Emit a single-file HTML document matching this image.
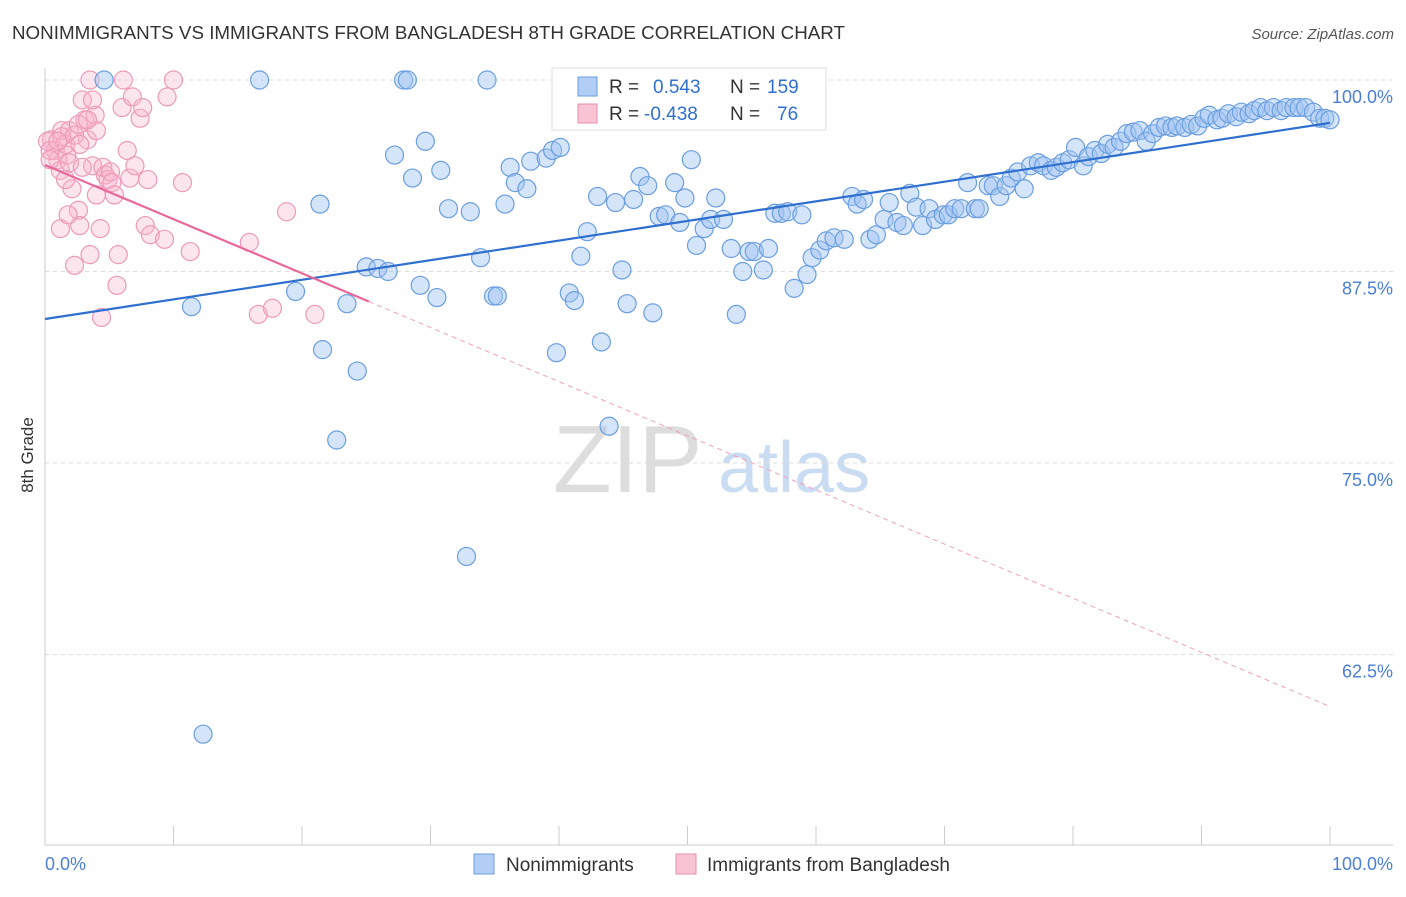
<!DOCTYPE html>
<html><head><meta charset="utf-8"><style>
body{margin:0;background:#fff;font-family:"Liberation Sans",sans-serif;}
svg text{font-family:"Liberation Sans",sans-serif;}
</style></head><body>
<svg id="chart" width="1406" height="892" viewBox="0 0 1406 892" xmlns="http://www.w3.org/2000/svg">
<text x="12" y="39" font-size="18.5" textLength="833" lengthAdjust="spacingAndGlyphs" fill="#333">NONIMMIGRANTS VS IMMIGRANTS FROM BANGLADESH 8TH GRADE CORRELATION CHART</text>
<text x="1394" y="39" font-size="15" fill="#555" text-anchor="end" font-style="italic">Source: ZipAtlas.com</text>
<g>
<text x="553" y="492" font-size="96" fill="#ddd" font-family="Liberation Serif, serif">ZIP</text>
<text x="718" y="492" font-size="72" fill="#c9dcf2">atlas</text>
</g>
<g id="grid"></g>
<g id="axes"></g>
<g id="pts"></g>
<g id="trend"></g>
<text transform="translate(33,455) rotate(-90)" font-size="17" fill="#333" text-anchor="middle">8th Grade</text>
<g>
<rect x="552" y="68" width="274" height="62" fill="#fff" stroke="#ddd"/>
<rect x="578" y="77" width="19" height="19" fill="#b3cef5" stroke="#6b9ee0"/>
<rect x="578" y="104" width="19" height="19" fill="#f8c3d3" stroke="#e88fb0"/>
<text x="609" y="93" font-size="19" fill="#333">R = </text><text x="653" y="93" font-size="19" fill="#2f6fd0">0.543</text>
<text x="730" y="93" font-size="19" fill="#333">N = </text><text x="767" y="93" font-size="19" fill="#2f6fd0">159</text>
<text x="609" y="120" font-size="19" fill="#333">R = </text><text x="644" y="120" font-size="19" fill="#2f6fd0">-0.438</text>
<text x="730" y="120" font-size="19" fill="#333">N = </text><text x="777" y="120" font-size="19" fill="#2f6fd0">76</text>
</g>
<g>
<rect x="474" y="854" width="20" height="20" fill="#b3cef5" stroke="#6b9ee0"/>
<text x="506" y="871" font-size="19" fill="#333">Nonimmigrants</text>
<rect x="676" y="854" width="20" height="20" fill="#f8c3d3" stroke="#e88fb0"/>
<text x="707" y="871" font-size="19" fill="#333">Immigrants from Bangladesh</text>
</g>
</svg>
<script>
const yTicks=[100,87.5,75,62.5];
const yTickLabels=["100.0%","87.5%","75.0%","62.5%"];
const xTickLabels=["0.0%","100.0%"];
const blueX=[4.6,16.7,27.9,28.2,34.4,11.4,21.4,19.5,21.6,24.3,22.7,23.5,25.0,25.9,26.7,27.2,28.6,29.2,29.6,30.5,30.8,31.4,33.1,33.9,34.9,35.2,35.8,36.2,36.6,37.5,37.8,39.0,39.5,40.1,41.7,42.2,40.8,41.2,39.8,43.0,43.9,43.3,44.4,44.9,45.3,45.8,46.3,46.9,47.3,47.8,48.3,49.0,49.4,49.8,50.3,50.7,51.3,51.8,52.2,52.8,53.4,53.8,54.3,54.8,55.2,55.9,56.3,56.8,57.3,57.8,58.3,58.9,59.3,59.7,60.3,60.8,61.4,62.2,62.8,63.2,63.7,64.2,64.7,65.3,65.7,66.3,66.8,67.3,67.8,68.3,68.8,69.3,69.9,70.3,70.8,71.3,71.8,72.4,72.7,73.4,73.8,74.3,74.8,75.2,75.7,76.2,76.7,77.3,77.7,78.3,78.7,79.2,79.7,80.2,80.8,81.2,81.7,82.2,82.7,83.2,83.7,84.2,84.7,85.2,85.7,86.2,86.7,87.2,87.7,88.1,88.7,89.2,89.7,90.2,90.6,91.2,91.6,92.1,92.7,93.1,93.7,94.1,94.6,95.1,95.6,96.2,96.6,97.2,97.6,98.1,98.7,99.2,99.6,100,12.3,32.8];
const blueY=[100,100,100,100,100,85.2,91.9,86.2,82.4,81.0,76.5,85.4,87.8,87.7,87.5,95.1,93.6,86.6,96.0,85.8,94.1,91.6,91.4,88.4,85.9,85.9,91.9,94.3,93.3,92.9,94.7,94.9,95.4,95.6,88.5,90.1,86.1,85.6,82.2,92.4,77.4,82.9,92.0,87.6,85.4,92.2,93.7,93.1,84.8,91.1,91.2,93.3,90.7,92.3,94.8,89.2,90.3,90.9,92.3,90.9,89.0,84.7,87.5,88.8,88.8,87.6,89.0,91.3,91.3,91.4,86.4,91.2,87.3,88.4,88.9,89.5,89.7,89.6,92.4,91.9,92.2,89.6,89.9,90.9,92.0,90.7,90.5,92.6,91.7,90.5,91.6,90.9,91.2,91.2,91.6,91.6,93.3,91.6,91.6,93.1,93.1,92.4,93.1,93.6,94.0,92.9,94.4,94.6,94.4,94.1,94.3,94.6,94.8,95.6,94.4,95.0,95.4,95.2,95.8,95.6,96.0,96.5,96.6,96.7,96.0,96.5,96.9,97.0,96.9,97.0,96.9,97.1,97.0,97.5,97.7,97.4,97.5,97.8,97.6,97.9,97.8,98.0,98.2,98.0,98.2,98.0,98.2,98.2,98.2,98.2,97.9,97.5,97.5,97.4,57.3,68.9];
const pinkX=[0.5,0.8,1.0,1.2,1.3,1.6,1.7,1.9,2.1,2.3,2.6,2.7,2.9,3.1,3.3,3.5,3.7,3.9,4.0,4.3,4.5,4.7,4.9,5.1,5.2,5.4,5.6,5.7,6.0,6.1,6.4,6.6,6.8,7.0,7.4,7.6,7.8,8.0,8.2,9.3,9.5,10.0,10.7,11.3,15.9,16.6,17.7,18.8,21.0,4.4,3.5,1.2,1.6,1.8,0.2,0.4,1.3,2.3,2.6,3.7,4.0,3.3,1.0,0.4,1.9,2.9,2.7];
const pinkY=[96.1,95.4,94.8,94.1,96.7,95.8,95.1,96.7,92.9,87.9,91.5,90.5,98.7,97.4,96.1,100,94.4,97.7,92.5,90.3,94.3,93.8,93.5,94.0,93.3,92.5,86.6,88.6,98.2,100,95.4,93.6,98.9,94.4,97.5,98.2,90.5,93.5,89.9,89.6,98.9,100,93.3,88.8,89.4,84.7,85.1,91.4,84.7,84.5,88.6,90.3,93.5,91.2,96.0,95.4,96.3,96.4,97.1,98.7,96.7,97.4,96.0,94.8,94.6,94.3,95.8];
const blueTrend=[84.4,97.2];
const pinkTrend=[94.45,59.1];
const pinkSolidEnd=25.2;

const NS="http://www.w3.org/2000/svg";
const X0=45,X1=1330,YTOP=80,PX_PER=191.5/12.5;
const sx=v=>X0+(X1-X0)*v/100;
const sy=v=>YTOP+(100-v)*PX_PER;
function mk(tag,attrs,parent){const e=document.createElementNS(NS,tag);for(const k in attrs)e.setAttribute(k,attrs[k]);parent.appendChild(e);return e;}
const grid=document.getElementById('grid'),axes=document.getElementById('axes');
yTicks.forEach((t,i)=>{
  const l=mk('line',{x1:45,x2:1393,y1:sy(t),y2:sy(t),stroke:'#ddd','stroke-dasharray':'4,4'},grid);
  
  
  const tx=mk('text',{x:1393,y:sy(t)+23,'font-size':18,fill:'#4a7fd4','text-anchor':'end'},axes);
  tx.textContent=yTickLabels[i];
  
  
});
const ax=mk('line',{x1:45,x2:45,y1:68,y2:845,stroke:'#ccc'},axes);


const bx=mk('line',{x1:45,x2:1393,y1:845,y2:845,stroke:'#ccc'},axes);


for(let i=0;i<=10;i++){
  const t=mk('line',{x1:sx(i*10),x2:sx(i*10),y1:826,y2:845,stroke:'#ccc'},axes);
  
  
}
[[0,'start',45],[100,'end',1393]].forEach((d,i)=>{
  const tx=mk('text',{x:d[2],y:870,'font-size':18,fill:'#4a7fd4','text-anchor':d[1]},axes);
  tx.textContent=xTickLabels[i];
  
  
});
const pts=document.getElementById('pts');
pinkX.forEach((v,i)=>{
  const c=mk('circle',{cx:sx(v),cy:sy(pinkY[i]),r:9,fill:'rgba(248,180,203,0.35)',stroke:'#ec9ab8','stroke-width':1.2},pts);
  
  
});
blueX.forEach((v,i)=>{
  const c=mk('circle',{cx:sx(v),cy:sy(blueY[i]),r:9,fill:'rgba(160,195,242,0.45)',stroke:'#6b9ee0','stroke-width':1.2},pts);
  
  
});
const tr=document.getElementById('trend');
const bl=mk('line',{x1:sx(0),y1:sy(blueTrend[0]),x2:sx(100),y2:sy(blueTrend[1]),stroke:'#2f6fd0','stroke-width':2.2},tr);


const pAt=x=>pinkTrend[0]+(pinkTrend[1]-pinkTrend[0])*x/100;
const ps=mk('line',{x1:sx(0),y1:sy(pAt(0)),x2:sx(pinkSolidEnd),y2:sy(pAt(pinkSolidEnd)),stroke:'#e8689a','stroke-width':2.2},tr);


const pd=mk('line',{x1:sx(pinkSolidEnd),y1:sy(pAt(pinkSolidEnd)),x2:sx(100),y2:sy(pAt(100)),stroke:'#f0a0bd','stroke-width':1,'stroke-dasharray':'5,4'},tr);


</script>
</body></html>
